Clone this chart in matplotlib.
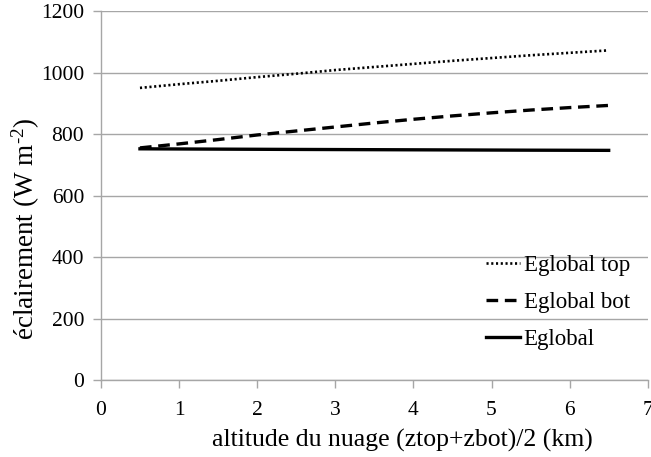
import matplotlib
matplotlib.use("Agg")
import matplotlib.pyplot as plt

plt.rcParams['font.family'] = ['Liberation Serif', 'DejaVu Serif']
plt.rcParams['mathtext.fontset'] = 'custom'
plt.rcParams['mathtext.rm'] = 'Liberation Serif'
plt.rcParams['mathtext.it'] = 'Liberation Serif:italic'

altitude = [0.5, 1, 1.5, 2, 2.5, 3, 3.5, 4, 4.5, 5, 5.5, 6, 6.5]
eglobal_top = [950, 962, 973, 985, 996, 1008, 1018, 1028, 1038, 1047, 1056, 1064, 1072]
eglobal_bot = [755, 768, 782, 797, 810, 823, 836, 848, 859, 869, 878, 886, 893]
eglobal = [752, 751.5, 751, 750.5, 750, 749.6, 749.2, 748.8, 748.4, 748, 747.6, 747.3, 747]

fig = plt.figure(figsize=(6.51, 4.57), dpi=100)
ax = fig.add_axes([0.155, 0.168, 0.840, 0.808])

grid_c = '#a6a6a6'
ax.plot(altitude, eglobal_top, color='black', lw=1.9, linestyle=(0, (0.8, 1.0)), label='Eglobal top')
ax.plot(altitude, eglobal_bot, color='black', lw=2.4, linestyle=(0, (3.5, 2.0)), label='Eglobal bot')
ax.plot(altitude, eglobal, color='black', lw=2.4, linestyle='-', label='Eglobal')

ax.set_xlim(0, 7)
ax.set_ylim(0, 1200)
ax.set_xticks(range(0, 8))
ax.set_yticks(range(0, 1201, 200))
ax.yaxis.grid(True, color=grid_c, lw=1)
ax.set_axisbelow(True)
for s in ['top', 'right']:
    ax.spines[s].set_visible(False)
for s in ['left', 'bottom']:
    ax.spines[s].set_color(grid_c)
    ax.spines[s].set_linewidth(1)
ax.tick_params(axis='both', colors=grid_c, labelcolor='black', labelsize=15.5, length=6, width=1)
ax.tick_params(axis='x', pad=9)
ax.tick_params(axis='y', pad=6)

ax.set_xlabel('altitude du nuage (ztop+zbot)/2 (km)', fontsize=18.5)
ax.xaxis.set_label_coords(0.551, -0.133)
ax.xaxis.label.set_verticalalignment('top')
ax.set_ylabel(r'éclairement (W m$^{\text{-2}}$)', fontsize=19.5)
ax.yaxis.set_label_coords(-0.108, 0.41)

leg = ax.legend(loc='lower right', bbox_to_anchor=(1.005, 0.025), frameon=False, fontsize=16.5,
                handlelength=1.5, handletextpad=0.15, labelspacing=0.7)

fig.savefig('out.png', dpi=100)
